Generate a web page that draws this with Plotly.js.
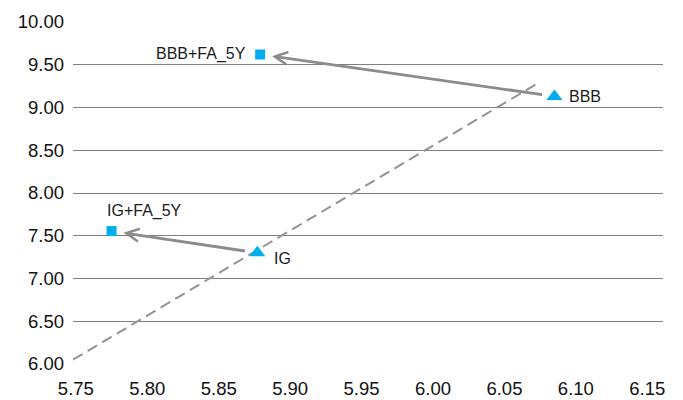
<!DOCTYPE html>
<html>
<head>
<meta charset="utf-8">
<script src="https://cdn.plot.ly/plotly-3.0.1.min.js"></script>
<style>html,body{margin:0;padding:0;background:#fff;}#chart{width:683px;height:400px;}</style>
</head>
<body>
<div id="chart"></div>
<script>
// Data
const pointNames = ["IG", "BBB"];
const pointX = [5.877, 6.085];
const pointY = [7.30, 9.13];
const faNames = ["IG+FA_5Y", "BBB+FA_5Y"];
const faX = [5.775, 5.879];
const faY = [7.555, 9.62];
const dashX = [5.748, 6.074];
const dashY = [6.05, 9.29];
const xTicks = [5.75, 5.80, 5.85, 5.90, 5.95, 6.00, 6.05, 6.10, 6.15];
const yTicks = [6.0, 6.5, 7.0, 7.5, 8.0, 8.5, 9.0, 9.5, 10.0];

const blue = '#00AEEF';
const grey = '#8c8c8c';
const font = 'Liberation Sans, Arial, sans-serif';

const traces = [
  {x: dashX, y: dashY, mode: 'lines', line: {color: '#939393', width: 2, dash: '11px,6px'}, hoverinfo: 'skip'},
  {x: pointX, y: pointY, mode: 'markers', marker: {symbol: 'triangle-up', size: 14, color: blue}},
  {x: faX, y: faY, mode: 'markers', marker: {symbol: 'square', size: 10, color: blue}}
];

const annotations = [];
for (let i = 0; i < pointX.length; i++) {
  annotations.push({
    x: faX[i], y: faY[i], xref: 'x', yref: 'y',
    ax: pointX[i], ay: pointY[i], axref: 'x', ayref: 'y',
    showarrow: true, arrowhead: 5, arrowsize: 0.9, arrowwidth: 2.8, arrowcolor: grey,
    standoff: 12, startstandoff: 11, text: ''
  });
}
// labels
annotations.push({x: pointX[0], y: pointY[0], text: pointNames[0], showarrow: false, xanchor: 'left', xshift: 15, yshift: -6, font: {family: font, size: 16, color: '#1a1a1a'}});
annotations.push({x: pointX[1], y: pointY[1], text: pointNames[1], showarrow: false, xanchor: 'left', xshift: 13, yshift: 0, font: {family: font, size: 16, color: '#1a1a1a'}});
annotations.push({x: faX[0], y: faY[0], text: faNames[0], showarrow: false, xanchor: 'left', xshift: -7, yshift: 20, font: {family: font, size: 16, color: '#1a1a1a'}});
annotations.push({x: faX[1], y: faY[1], text: faNames[1], showarrow: false, xanchor: 'right', xshift: -12, yshift: 0, font: {family: font, size: 16, color: '#1a1a1a'}});

const layout = {
  width: 683, height: 400,
  margin: {l: 73, r: 20, t: 22, b: 36, pad: 0},
  showlegend: false,
  paper_bgcolor: '#fff', plot_bgcolor: '#fff',
  font: {family: font, size: 18.5, color: '#111'},
  xaxis: {
    range: [5.748, 6.161], showgrid: false, zeroline: false, showline: false,
    tickvals: xTicks, ticktext: xTicks.map(v => v.toFixed(2)), ticks: '',
    ticklabelstandoff: 11
  },
  yaxis: {
    range: [6, 10], showgrid: true, gridcolor: '#808080', gridwidth: 1, zeroline: false, showline: false,
    tickvals: yTicks, ticktext: yTicks.map(v => v.toFixed(2)), ticks: '',
    ticklabelstandoff: 8
  },
  annotations: annotations
};

Plotly.newPlot('chart', traces, layout, {staticPlot: true, displayModeBar: false});
</script>
</body>
</html>
